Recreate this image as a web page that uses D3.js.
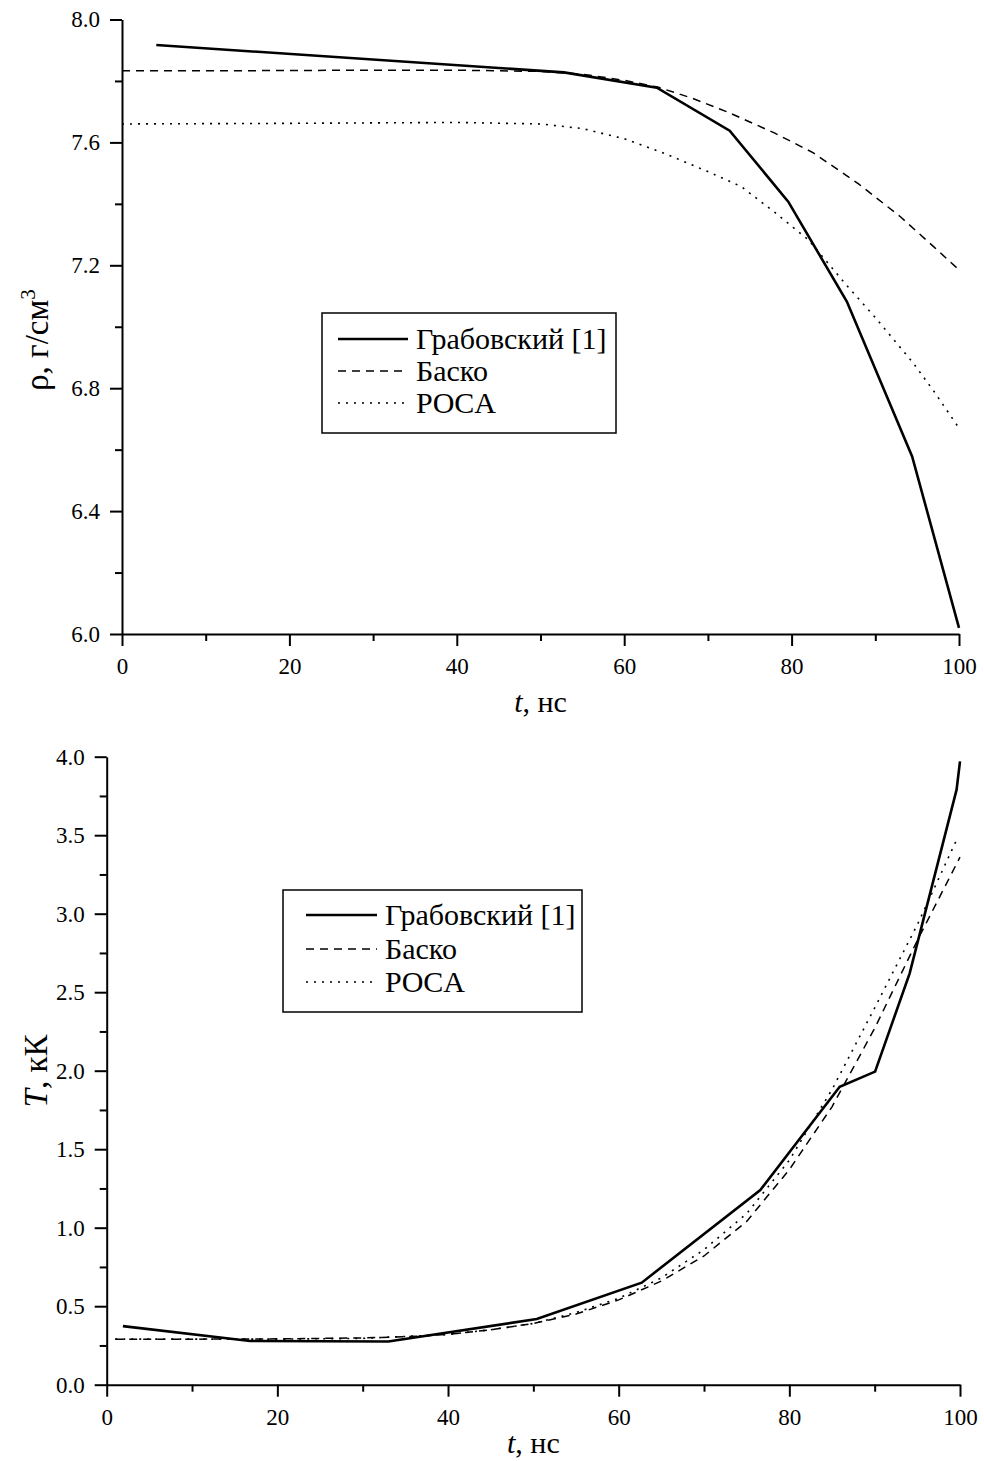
<!DOCTYPE html>
<html><head><meta charset="utf-8">
<script src="https://cdn.jsdelivr.net/npm/d3@7"></script>
<style>
body{margin:0;background:#fff;}
svg{display:block;}
text{font-family:"Liberation Serif","Times New Roman",serif;fill:#000;}
</style></head>
<body>
<svg id="c" width="984" height="1461"></svg>
<script>
// ---------- DATA ----------
const seriesNames = ["Грабовский [1]", "Баско", "POCA"];

// Top chart: density rho (g/cm^3) vs t (ns)
const rhoGrab = [[4.1,7.917],[52.8,7.828],[63.9,7.778],[72.6,7.638],[79.6,7.407],[86.6,7.082],[94.4,6.578],[100,6.02]];
const rhoBasko = [[0,7.833],[10,7.833],[20,7.834],[30,7.835],[40,7.835],[50,7.831],[55,7.822],[60,7.802],[64,7.78],[68,7.745],[72.6,7.696],[78,7.63],[82.6,7.566],[88,7.465],[93,7.358],[97,7.26],[100,7.185]];
const rhoPoca = [[0,7.66],[20,7.662],[40,7.665],[50,7.66],[55,7.645],[60,7.612],[65,7.562],[70,7.505],[74,7.456],[78,7.372],[82,7.283],[86.6,7.134],[90,7.03],[94.5,6.883],[97,6.79],[100,6.67]];
const rhoTicks = [6.0,6.4,6.8,7.2,7.6,8.0];
const rhoMinor = [6.2,6.6,7.0,7.4,7.8];
const tTicks = [0,20,40,60,80,100];
const tMinor = [10,30,50,70,90];

// Bottom chart: temperature T (kK) vs t (ns)
const tempGrab = [[1.9,0.373],[16.8,0.278],[33.0,0.275],[50.4,0.418],[62.7,0.65],[76.6,1.24],[85.9,1.898],[90.05,1.994],[94.1,2.62],[99.6,3.79],[100,3.97]];
const tempBasko = [[1,0.29],[10,0.29],[20,0.292],[30,0.298],[35,0.305],[40,0.32],[45,0.35],[50,0.39],[55,0.45],[60,0.54],[65,0.66],[70,0.82],[75,1.04],[80,1.37],[85,1.77],[90,2.27],[95,2.83],[100,3.36]];
const tempPoca = [[1,0.29],[10,0.29],[20,0.29],[30,0.295],[40,0.32],[45,0.35],[50,0.39],[55,0.46],[60,0.55],[65,0.68],[70,0.86],[75,1.09],[80,1.43],[85,1.88],[90,2.4],[95,2.93],[99.6,3.47]];
const tempTicks = [0.0,0.5,1.0,1.5,2.0,2.5,3.0,3.5,4.0];
const tempMinor = [0.25,0.75,1.25,1.75,2.25,2.75,3.25,3.75];

// ---------- DRAW ----------
const svg = d3.select("#c");
const FONT = '"Liberation Serif","Times New Roman",serif';
const styles = [
  {w:2.6, dash:null},
  {w:1.5, dash:"8,6"},
  {w:1.6, dash:"2,6"}
];

function chart(o){
  const x = d3.scaleLinear().domain([0,100]).range([o.x0,o.x1]);
  const y = d3.scaleLinear().domain(o.ydom).range([o.y0,o.y1]);
  const g = svg.append("g");
  const line = d3.line().x(d=>x(d[0])).y(d=>y(d[1]));
  o.series.forEach((s,i)=>{
    g.append("path").attr("d",line(s)).attr("fill","none").attr("stroke","#000")
      .attr("stroke-width",styles[i].w).attr("stroke-dasharray",styles[i].dash)
      .attr("stroke-linejoin","miter");
  });
  const xa = g.append("g").attr("transform",`translate(0,${o.y0})`)
    .call(d3.axisBottom(x).tickValues(o.xticks).tickFormat(d3.format("d")).tickSize(12).tickSizeOuter(0).tickPadding(12));
  const xm = g.append("g").attr("transform",`translate(0,${o.y0})`)
    .call(d3.axisBottom(x).tickValues(o.xminor).tickFormat("").tickSize(7).tickSizeOuter(0));
  const ya = g.append("g").attr("transform",`translate(${o.x0},0)`)
    .call(d3.axisLeft(y).tickValues(o.yticks).tickFormat(d3.format(".1f")).tickSize(12).tickSizeOuter(0).tickPadding(10));
  const ym = g.append("g").attr("transform",`translate(${o.x0},0)`)
    .call(d3.axisLeft(y).tickValues(o.yminor).tickFormat("").tickSize(7).tickSizeOuter(0));
  [xa,xm,ya,ym].forEach(a=>{
    a.attr("font-family",FONT).attr("font-size",23);
    a.selectAll("path,line").attr("stroke","#000").attr("stroke-width",2);
    a.selectAll("text").attr("font-family",FONT).attr("font-size",23);
  });
  xm.select(".domain").remove(); ym.select(".domain").remove();
  const xt = g.append("text").attr("x",(o.x0+o.x1)/2).attr("y",o.xtitleY)
    .attr("text-anchor","middle").attr("font-family",FONT).attr("font-size",30);
  xt.append("tspan").style("font-style","italic").text("t");
  xt.append("tspan").text(", нс");
  const yt = g.append("text").attr("transform",`translate(${o.ytitleX},${o.ytitleCY}) rotate(-90)`)
    .attr("text-anchor","middle").attr("font-family",FONT).attr("font-size",33);
  o.ytitle(yt);
  const L = o.legend;
  g.append("rect").attr("x",L.x).attr("y",L.y).attr("width",L.w).attr("height",L.h)
    .attr("fill","#fff").attr("stroke","#000").attr("stroke-width",1.5);
  seriesNames.forEach((n,i)=>{
    const ly = L.rows[i];
    g.append("line").attr("x1",L.lx0).attr("x2",L.lx1).attr("y1",ly).attr("y2",ly)
      .attr("stroke","#000").attr("stroke-width",styles[i].w).attr("stroke-dasharray",styles[i].dash);
    g.append("text").attr("x",L.tx).attr("y",ly+10).attr("font-family",FONT).attr("font-size",30).text(n);
  });
}

chart({
  x0:122, x1:959, y0:634, y1:19.5, ydom:[6.0,8.0],
  series:[rhoGrab,rhoBasko,rhoPoca],
  xticks:tTicks, xminor:tMinor, yticks:rhoTicks, yminor:rhoMinor,
  xtitleY:712, ytitleX:48, ytitleCY:340,
  ytitle:(t)=>{ t.append("tspan").text("ρ, г/см"); t.append("tspan").attr("dy","-13").attr("font-size",21).text("3"); },
  legend:{x:322,y:313,w:294,h:120,lx0:338,lx1:408,tx:416,rows:[339,371,403]}
});

chart({
  x0:106.7, x1:960, y0:1384.7, y1:756.7, ydom:[0,4.0],
  series:[tempGrab,tempBasko,tempPoca],
  xticks:tTicks, xminor:tMinor, yticks:tempTicks, yminor:tempMinor,
  xtitleY:1453, ytitleX:47, ytitleCY:1071,
  ytitle:(t)=>{ t.append("tspan").style("font-style","italic").text("T"); t.append("tspan").text(", кК"); },
  legend:{x:283,y:890,w:299,h:122,lx0:306,lx1:377,tx:385,rows:[915,949,982]}
});
</script>
</body></html>
